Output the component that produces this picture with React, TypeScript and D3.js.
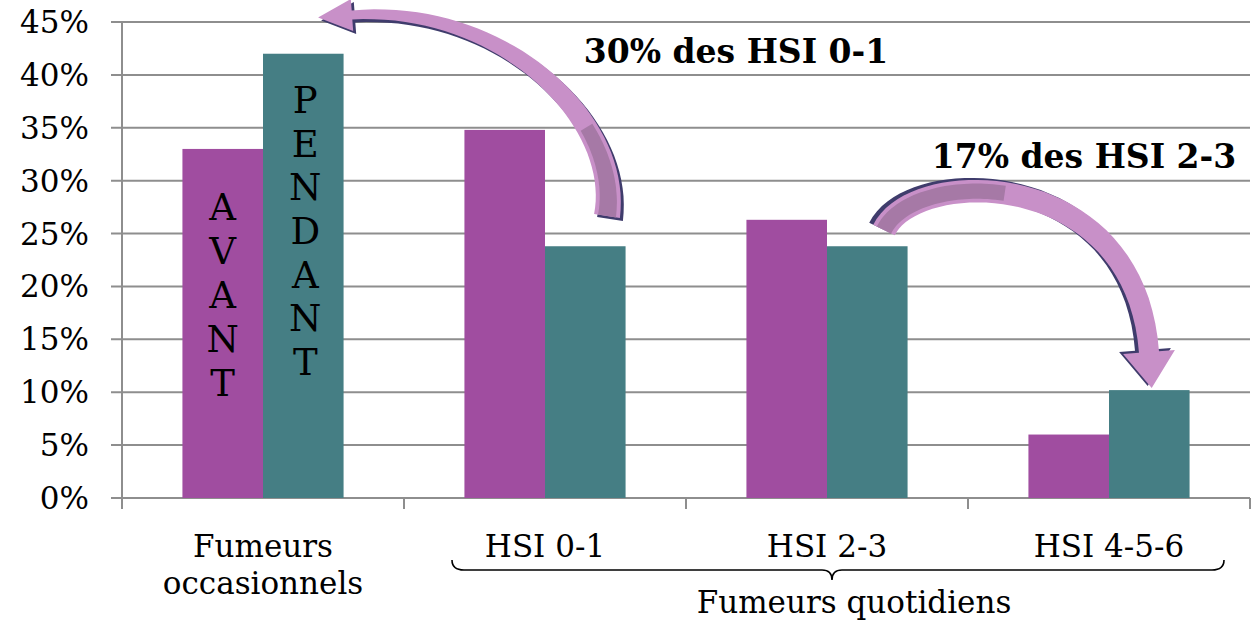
import React from 'react';
import * as d3 from 'd3';

// chart data
const categories = ['Fumeurs occasionnels', 'HSI 0-1', 'HSI 2-3', 'HSI 4-5-6'];
const categoryLines = [['Fumeurs', 'occasionnels'], ['HSI 0-1'], ['HSI 2-3'], ['HSI 4-5-6']];
const series = ['AVANT', 'PENDANT'];
const avant = [33, 34.8, 26.3, 6];
const pendant = [42, 23.8, 23.8, 10.2];
const yTicks = [0, 5, 10, 15, 20, 25, 30, 35, 40, 45];
const groupLabel = 'Fumeurs quotidiens';
const noteTop = '30% des HSI 0-1';
const noteRight = '17% des HSI 2-3';

const W = 1254;
const H = 633;
const FONT = '"DejaVu Serif", Georgia, serif';
const colors = ['#A04DA0', '#457E84'];
const gridColor = '#8E8E8E';
const arrowLight = '#C890C8';
const arrowDark = '#3F3C6C';
const arrowFace = '#A679A6';

type Pt = [number, number];

// point and derivative of a cubic bezier
function bez(p: Pt[], t: number): Pt {
  const u = 1 - t;
  return [
    u * u * u * p[0][0] + 3 * u * u * t * p[1][0] + 3 * u * t * t * p[2][0] + t * t * t * p[3][0],
    u * u * u * p[0][1] + 3 * u * u * t * p[1][1] + 3 * u * t * t * p[2][1] + t * t * t * p[3][1],
  ];
}
function bezD(p: Pt[], t: number): Pt {
  const u = 1 - t;
  return [
    3 * u * u * (p[1][0] - p[0][0]) + 6 * u * t * (p[2][0] - p[1][0]) + 3 * t * t * (p[3][0] - p[2][0]),
    3 * u * u * (p[1][1] - p[0][1]) + 6 * u * t * (p[2][1] - p[1][1]) + 3 * t * t * (p[3][1] - p[2][1]),
  ];
}

// tapered curved block arrow along a bezier
function arrowPath(p: Pt[], w0: number, w1: number, headLen: number, headHalf: number, t1 = 1, head = true) {
  const n = 40;
  const left: Pt[] = [];
  const right: Pt[] = [];
  let last: { c: Pt; nx: number; ny: number; tx: number; ty: number } | null = null;
  for (let i = 0; i <= n; i++) {
    const t = (i / n) * t1;
    const c = bez(p, t);
    const d = bezD(p, t);
    const len = Math.hypot(d[0], d[1]) || 1;
    const tx = d[0] / len, ty = d[1] / len;
    const nx = -ty, ny = tx;
    const w = (w0 + (w1 - w0) * t) / 2;
    left.push([c[0] + nx * w, c[1] + ny * w]);
    right.push([c[0] - nx * w, c[1] - ny * w]);
    last = { c, nx, ny, tx, ty };
  }
  const pts: Pt[] = [...left];
  if (head && last) {
    const { c, nx, ny, tx, ty } = last;
    pts.push([c[0] + nx * headHalf, c[1] + ny * headHalf]);
    pts.push([c[0] + tx * headLen, c[1] + ty * headLen]);
    pts.push([c[0] - nx * headHalf, c[1] - ny * headHalf]);
  }
  pts.push(...right.reverse());
  return 'M' + pts.map(q => `${q[0].toFixed(1)},${q[1].toFixed(1)}`).join('L') + 'Z';
}

function CurvedArrow({ p, w0, w1, headLen, headHalf, shadow, faceTo }: {
  p: Pt[]; w0: number; w1: number; headLen: number; headHalf: number; shadow: Pt; faceTo: number;
}) {
  return (
    <g>
      <path transform={`translate(${shadow[0]},${shadow[1]})`} d={arrowPath(p, w0, w1, headLen, headHalf)} fill={arrowDark} />
      <path d={arrowPath(p, w0, w1, headLen, headHalf)} fill={arrowLight} />
      <path d={arrowPath(p, w0 - 8, w1 - 6, 0, 0, faceTo, false)} fill={arrowFace} />
    </g>
  );
}

export default function App() {
  const left = 122, right = 1250, top = 22, bottom = 498;

  const x = d3.scaleBand<string>().domain(categories).range([left, right]).paddingInner(0).paddingOuter(0);
  const xs = d3.scaleBand<string>().domain(series).range([0, x.bandwidth()]).paddingInner(0).paddingOuter(0.75);
  const y = d3.scaleLinear().domain([0, 45]).range([bottom, top]);
  const values = [avant, pendant];

  const braceL = (x('HSI 0-1') ?? 0) + 48;
  const braceR = (x('HSI 4-5-6') ?? 0) + x.bandwidth() - 26;
  const braceM = (braceL + braceR) / 2 - 6;
  const by = 560;
  const brace = `M${braceL},${by} Q${braceL},${by + 10} ${braceL + 12},${by + 10} L${braceM - 10},${by + 10} Q${braceM},${by + 10} ${braceM},${by + 20} Q${braceM},${by + 10} ${braceM + 10},${by + 10} L${braceR - 12},${by + 10} Q${braceR},${by + 10} ${braceR},${by}`;

  const cx = (ci: number, si: number) => (x(categories[ci]) ?? 0) + (xs(series[si]) ?? 0) + xs.bandwidth() / 2;

  return (
    <svg width={W} height={H} style={{ position: 'absolute', left: 0, top: 0, background: '#fff' }} fontFamily={FONT}>
      {/* gridlines and y tick labels */}
      {yTicks.map(t => (
        <g key={t}>
          <line x1={111} x2={right} y1={y(t)} y2={y(t)} stroke={gridColor} strokeWidth={2} />
          <text x={89} y={y(t) + 11} textAnchor="end" fontSize={31} fill="#000">{t}%</text>
        </g>
      ))}
      {/* y axis and category ticks */}
      <line x1={left} x2={left} y1={top} y2={bottom + 11} stroke={gridColor} strokeWidth={2} />
      {categories.map(c => (
        <line key={c} x1={(x(c) ?? 0) + x.bandwidth()} x2={(x(c) ?? 0) + x.bandwidth()} y1={bottom} y2={bottom + 11} stroke={gridColor} strokeWidth={2} />
      ))}

      {/* bars */}
      {series.map((s, si) => (
        <g key={s} fill={colors[si]}>
          {values[si].map((v, ci) => (
            <rect key={ci} x={(x(categories[ci]) ?? 0) + (xs(s) ?? 0)} y={y(v)} width={xs.bandwidth()} height={y(0) - y(v)} />
          ))}
        </g>
      ))}

      {/* vertical series names inside first pair of bars */}
      {series[0].split('').map((ch, i) => (
        <text key={'a' + i} x={cx(0, 0)} y={y(26.3) + i * 44} textAnchor="middle" fontSize={37} fill="#000">{ch}</text>
      ))}
      {series[1].split('').map((ch, i) => (
        <text key={'p' + i} x={cx(0, 1) + 2} y={y(36.4) + i * 43.7} textAnchor="middle" fontSize={37} fill="#000">{ch}</text>
      ))}

      {/* category labels */}
      {categories.map((c, ci) => (
        <text key={c} x={(x(c) ?? 0) + x.bandwidth() / 2} y={557} textAnchor="middle" fontSize={31} fill="#000">
          {categoryLines[ci].map((line, li) => (
            <tspan key={li} x={(x(c) ?? 0) + x.bandwidth() / 2} dy={li === 0 ? 0 : 37}>{line}</tspan>
          ))}
        </text>
      ))}
      <path d={brace} fill="none" stroke="#000" strokeWidth={1.6} />
      <text x={braceM + 22} y={613} textAnchor="middle" fontSize={31} fill="#000">{groupLabel}</text>

      {/* annotations */}
      <CurvedArrow p={[[607, 216], [622, 118], [500, 4], [352, 15]]} w0={26} w1={9} headLen={34} headHalf={16} shadow={[3, 3]} faceTo={0.3} />
      <CurvedArrow p={[[884, 230], [915, 166], [1135, 165], [1149, 352]]} w0={24} w1={20} headLen={36} headHalf={26} shadow={[-4, -2]} faceTo={0.45} />
      <text x={736} y={63} textAnchor="middle" fontSize={33} fontWeight="bold" fill="#000">{noteTop}</text>
      <text x={1084} y={168} textAnchor="middle" fontSize={33} fontWeight="bold" fill="#000">{noteRight}</text>
    </svg>
  );
}
